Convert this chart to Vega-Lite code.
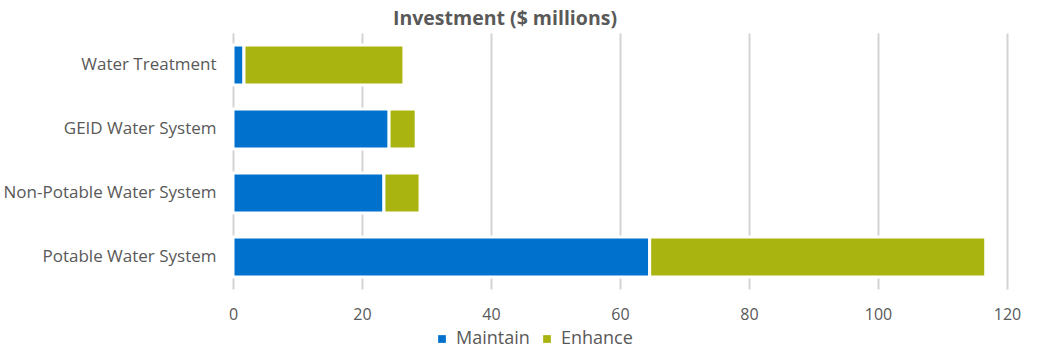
{
  "$schema": "https://vega.github.io/schema/vega-lite/v6.json",
  "width": 774,
  "height": 256,
  "autosize": {"type": "none"},
  "padding": {"left": 233, "top": 33, "right": 56, "bottom": 65},
  "background": "white",
  "title": {"text": "Investment ($ millions)", "anchor": "middle", "dx": -115, "offset": 4, "font": "Open Sans", "fontSize": 19.5, "fontWeight": "bold", "color": "#595959"},
  "data": {"values": [
    {"system": "Water Treatment", "type": "Maintain", "ord": 1, "value": 1.7},
    {"system": "Water Treatment", "type": "Enhance", "ord": 2, "value": 24.8},
    {"system": "GEID Water System", "type": "Maintain", "ord": 1, "value": 24.2},
    {"system": "GEID Water System", "type": "Enhance", "ord": 2, "value": 4.2},
    {"system": "Non-Potable Water System", "type": "Maintain", "ord": 1, "value": 23.4},
    {"system": "Non-Potable Water System", "type": "Enhance", "ord": 2, "value": 5.6},
    {"system": "Potable Water System", "type": "Maintain", "ord": 1, "value": 64.6},
    {"system": "Potable Water System", "type": "Enhance", "ord": 2, "value": 52.1}
  ]},
  "mark": {"type": "bar", "stroke": "white", "strokeWidth": 3},
  "encoding": {
    "y": {"field": "system", "type": "nominal", "sort": ["Water Treatment", "GEID Water System", "Non-Potable Water System", "Potable Water System"],
      "scale": {"paddingInner": 0.375, "paddingOuter": 0.1875},
      "axis": {"title": null, "domain": false, "ticks": false, "grid": false, "labelPadding": 17, "labelLimit": 300, "labelFont": "Open Sans", "labelFontSize": 17, "labelColor": "#595959"}},
    "x": {"field": "value", "type": "quantitative", "stack": "zero",
      "scale": {"domain": [0, 120], "nice": false},
      "axis": {"title": null, "values": [0, 20, 40, 60, 80, 100, 120], "domain": false, "ticks": false, "grid": true, "gridColor": "#D4D4D4", "gridWidth": 2, "labelFlush": false, "labelPadding": 17, "labelFont": "Open Sans", "labelFontSize": 16, "labelColor": "#595959"}},
    "color": {"field": "type", "type": "nominal",
      "scale": {"domain": ["Maintain", "Enhance"], "range": ["#0072CE", "#AAB410"]},
      "legend": {"title": null, "orient": "none", "direction": "horizontal", "legendX": 200, "legendY": 297, "symbolType": "square", "symbolSize": 60, "symbolStrokeWidth": 0, "labelFont": "Open Sans", "labelFontSize": 18, "labelColor": "#595959", "columnPadding": 8, "labelOffset": 5}},
    "order": {"field": "ord", "type": "quantitative"}
  },
  "config": {"view": {"stroke": null}}
}
